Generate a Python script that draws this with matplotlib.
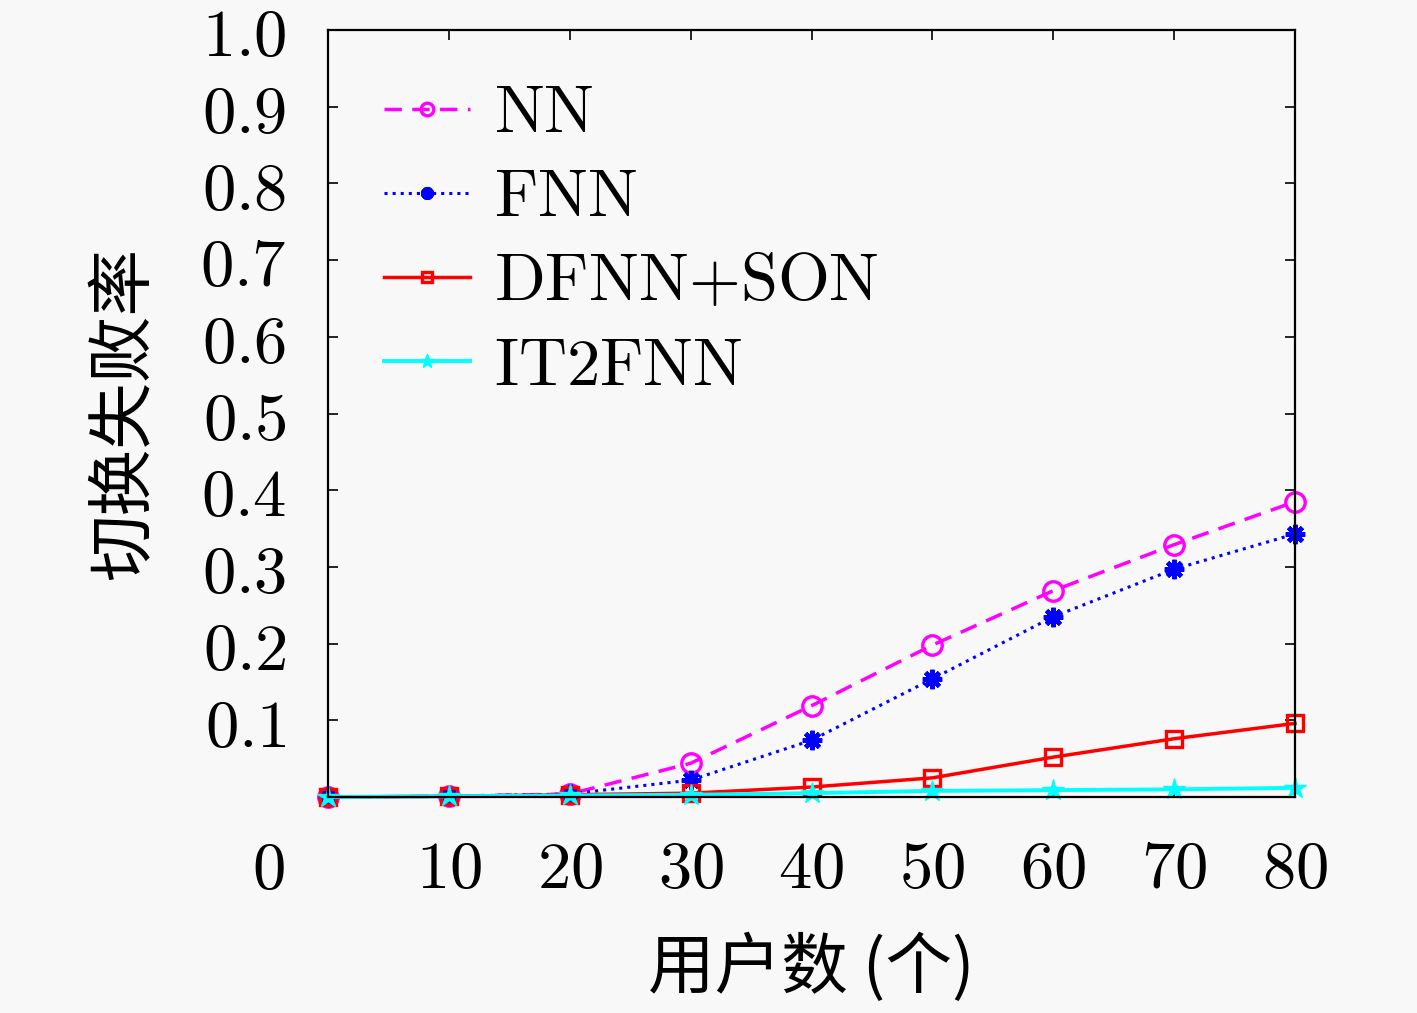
import numpy as np
import matplotlib
matplotlib.use('Agg')
import matplotlib.pyplot as plt

plt.rcParams['mathtext.fontset'] = 'cm'
plt.rcParams['font.family'] = ['Noto Sans CJK SC', 'DejaVu Sans']

# users (x) and handover failure rate per method
users = [0, 10, 20, 30, 40, 50, 60, 70, 80]
nn = [0.0, 0.001, 0.004, 0.044, 0.119, 0.198, 0.269, 0.329, 0.385]
fnn = [0.0, 0.001, 0.004, 0.022, 0.074, 0.154, 0.235, 0.297, 0.343]
dfnn_son = [0.0, 0.001, 0.003, 0.005, 0.013, 0.025, 0.052, 0.076, 0.096]
it2fnn = [0.0, 0.001, 0.002, 0.003, 0.005, 0.008, 0.009, 0.010, 0.012]

xticks = [10, 20, 30, 40, 50, 60, 70, 80]
yticks = [0.1, 0.2, 0.3, 0.4, 0.5, 0.6, 0.7, 0.8, 0.9, 1.0]
ytick_labels = ['0.1', '0.2', '0.3', '0.4', '0.5', '0.6', '0.7', '0.8', '0.9', '1.0']
names = ['NN', 'FNN', 'DFNN+SON', 'IT2FNN']

bg = '#f8f8f8'
fig = plt.figure(figsize=(14.17, 10.13), dpi=100, facecolor=bg)
ax = fig.add_axes([0.2315, 0.2132, 0.9139 - 0.2315, 0.9704 - 0.2132])
ax.set_facecolor(bg)

ax.plot(users, nn, color='#ff00ff', ls=(0, (5, 3)), lw=2.5, marker='o', ms=14,
        mfc='none', mec='#ff00ff', mew=2.4, clip_on=False,
        label='$\\mathrm{' + names[0] + '}$')
ax.plot(users, fnn, color='#0000ff', ls=':', lw=2.2, marker=(8, 2, 0), ms=14,
        mec='#0000ff', mew=3.2, clip_on=False,
        label='$\\mathrm{' + names[1] + '}$')
ax.plot(users, dfnn_son, color='#ff0000', ls='-', lw=2.5, marker='s', ms=12,
        mfc='none', mec='#ff0000', mew=2.4, clip_on=False,
        label='$\\mathrm{DFNN{+}SON}$')
ax.plot(users, it2fnn, color='#00ffff', ls='-', lw=2.8, marker='*', ms=16,
        mfc='#00ffff', mec='#00ffff', clip_on=False,
        label='$\\mathrm{' + names[3] + '}$')

ax.set_xlim(0, 80)
ax.set_ylim(0, 1.0)
ax.set_xticks(xticks)
ax.set_xticklabels(['$' + str(t) + '$' for t in xticks], fontsize=48)
ax.set_yticks(yticks)
ax.set_yticklabels(['$' + t + '$' for t in ytick_labels], fontsize=48)
ax.tick_params(axis='x', direction='in', length=7, width=1.2, top=True, pad=28)
ax.tick_params(axis='y', direction='in', length=7, width=1.2, right=True, pad=30)
for s in ax.spines.values():
    s.set_linewidth(1.6)

# gnuplot-style lone zero at the corner
ax.annotate('$0$', xy=(0, 0), xycoords='data', xytext=(-60, -73),
            textcoords='offset pixels', ha='center', va='center', fontsize=48)

ax.set_xlabel('用户数 (个)', fontsize=48, labelpad=22)
ax.set_ylabel('切换失败率', fontsize=48, labelpad=30)

leg = ax.legend(loc='upper left', bbox_to_anchor=(0.03, 0.97), frameon=False,
                fontsize=48, handlelength=1.3, handletextpad=0.35,
                labelspacing=0.25, markerscale=0.65, borderaxespad=0)

fig.savefig('out.png', dpi=100, facecolor=bg)
